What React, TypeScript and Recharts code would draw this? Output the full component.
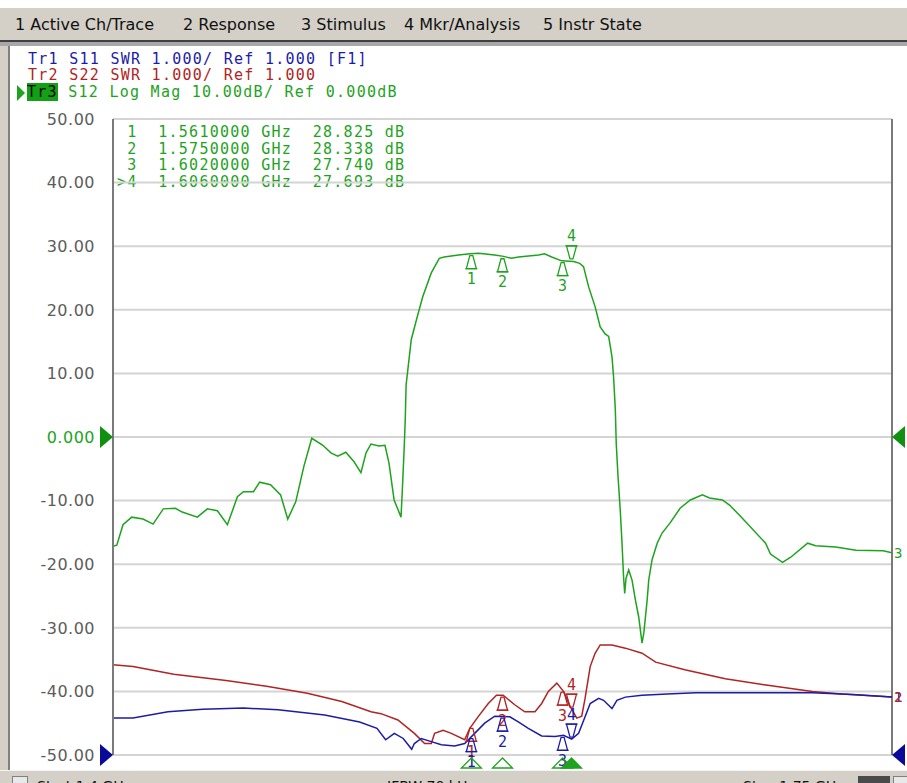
import React from 'react'
import {
  LineChart,
  Line,
  XAxis,
  YAxis,
  CartesianGrid,
  ReferenceLine,
  ReferenceDot,
} from 'recharts'

const GREEN = '#1ea31e'
const BLUE = '#1c1ca6'
const RED = '#b02424'
const GRID = '#d4d4d4'
const FRAME = '#d4d0c8'
const MONO = '"DejaVu Sans Mono", monospace'
const SANS = '"DejaVu Sans", sans-serif'

// stimulus: 1.4 GHz .. 1.75 GHz, values in MHz
const X_TICKS = [1400, 1435, 1470, 1505, 1540, 1575, 1610, 1645, 1680, 1715, 1750]
const DB_TICKS = [50, 40, 30, 20, 10, 0, -10, -20, -30, -40, -50]
const DB_LABELS = ['50.00', '40.00', '30.00', '20.00', '10.00', '0.000', '-10.00', '-20.00', '-30.00', '-40.00', '-50.00']
const MENU = ['1 Active Ch/Trace', '2 Response', '3 Stimulus', '4 Mkr/Analysis', '5 Instr State']
const MENU_LEFT = [15, 183, 301, 404, 543]

// Tr3 S12 Log Mag (dB)
const S12_FREQ = [
  1400, 1401.7, 1404.5, 1408.4, 1413.5, 1418, 1422.6, 1428, 1431.1, 1437.9,
  1442.4, 1446.9, 1451.4, 1455.9, 1458.6, 1463.1, 1465.9, 1470.8, 1475.3, 1478.5,
  1482.1, 1485.7, 1489.3, 1494.3, 1497.9, 1501, 1504.6, 1508.3, 1511.4, 1513.7,
  1515.9, 1519.5, 1522.2, 1524, 1526.3, 1529.4, 1529.9, 1530.8, 1531.3, 1531.7,
  1534, 1536.7, 1539.2, 1543, 1546.6, 1548.8, 1555.2, 1560.6, 1564.2, 1566.4,
  1571.4, 1575.5, 1579.1, 1582.2, 1591.2, 1593.9, 1597.1, 1601.6, 1607, 1609.7,
  1611.4, 1613.7, 1616.6, 1618.9, 1621.1, 1622.7, 1624.2, 1624.9, 1625.7, 1626.1,
  1626.9, 1627.9, 1628.7, 1629.4, 1629.9, 1630.5, 1631.7, 1633.2, 1634.7, 1636.2,
  1637.7, 1638.5, 1640, 1640.7, 1642.2, 1644.5, 1646.7, 1650.3, 1654.8, 1659.4,
  1664.8, 1668, 1673.8, 1677, 1681.5, 1693.2, 1695.4, 1700.8, 1704.5, 1712.1,
  1715.7, 1724.7, 1733.8, 1746, 1750,
]
const S12_DB = [
  -17.2, -17.0, -13.8, -12.6, -12.9, -13.7, -11.3, -11.2, -11.8, -12.6,
  -11.3, -11.6, -13.8, -9.4, -8.6, -8.6, -7.1, -7.5, -9.1, -12.9,
  -10.2, -4.7, -0.2, -1.3, -2.5, -3.0, -2.4, -3.9, -5.6, -2.5,
  -1.1, -1.4, -1.3, -4.1, -9.9, -12.6, -9.1, -2.0, 2.7, 8.2,
  15.3, 18.9, 22.1, 25.8, 28.1, 28.3, 28.6, 28.8, 28.9, 28.8,
  28.6, 28.4, 28.1, 28.3, 28.6, 28.8, 28.3, 27.7, 27.6, 27.3,
  26.8, 23.6, 20.5, 17.3, 16.2, 15.8, 12.6, 9.5, 4.2, -1.0,
  -6.2, -11.5, -16.7, -22.0, -24.6, -22.2, -20.9, -22.5, -25.6, -28.3,
  -32.4, -30.8, -25.6, -22.5, -19.3, -16.7, -15.1, -13.5, -11.2, -9.9,
  -9.1, -9.6, -9.9, -10.7, -12.3, -16.7, -18.4, -19.7, -18.9, -16.7,
  -17.1, -17.3, -17.8, -17.9, -18.2,
]

// Tr2 S22 SWR
const S22_FREQ = [
  1400, 1409, 1427.3, 1450.8, 1469, 1487.3, 1502.8, 1515.9, 1520.4, 1528,
  1535.4, 1540, 1543, 1544.5, 1548.3, 1552, 1558, 1560.3, 1564, 1568.6,
  1572.3, 1575.3, 1580.5, 1585, 1589.6, 1592.6, 1595.6, 1599.4, 1602.4, 1605.4,
  1608.4, 1610.6, 1612.1, 1614.4, 1616.6, 1618.9, 1624.2, 1630.2, 1637.7, 1643.8,
  1656.9, 1675.1, 1693.4, 1714.2, 1727.3, 1750,
]
const S22_SWR = [
  2.42, 2.39, 2.27, 2.17, 2.08, 1.97, 1.84, 1.68, 1.65, 1.55,
  1.34, 1.18, 1.18, 1.34, 1.39, 1.34, 1.24, 1.42, 1.6, 1.81,
  1.94, 1.94, 1.79, 1.68, 1.68, 1.81, 2.0, 2.13, 2.0, 1.76,
  1.58, 1.61, 1.89, 2.39, 2.6, 2.73, 2.73, 2.68, 2.6, 2.46,
  2.34, 2.2, 2.1, 2.0, 1.96, 1.91,
]

// Tr1 S11 SWR
const S11_FREQ = [
  1400, 1409, 1424.7, 1440.3, 1458.6, 1474.2, 1495.1, 1510.8, 1518.6, 1522.5,
  1526.4, 1530.4, 1534.2, 1535.4, 1538.5, 1543, 1547.5, 1553.5, 1558, 1562.5,
  1567, 1571.5, 1578.3, 1582.1, 1586.6, 1592.6, 1598.6, 1602.4, 1606.1, 1609.2,
  1612.1, 1614.4, 1618.2, 1620.4, 1624.2, 1626.4, 1630.2, 1637.7, 1649, 1662,
  1688.2, 1714.2, 1732.4, 1750,
]
const S11_SWR = [
  1.58, 1.58, 1.68, 1.72, 1.74, 1.71, 1.63, 1.52, 1.42, 1.24,
  1.34, 1.26, 1.09, 1.18, 1.26, 1.21, 1.16, 1.14, 1.18, 1.34,
  1.5, 1.61, 1.6, 1.52, 1.42, 1.3, 1.29, 1.31, 1.25, 1.34,
  1.6, 1.81, 1.89, 1.86, 1.73, 1.86, 1.91, 1.94, 1.96, 1.98,
  1.98, 1.98, 1.95, 1.91,
]

// markers (MHz), marker 4 is active
const MARKER_FREQ = [1561, 1575, 1602, 1606]
const S12_MARKER_DB = [28.825, 28.338, 27.74, 27.693]
const S11_MARKER_SWR = [1.29, 1.61, 1.31, 1.25]
const S22_MARKER_SWR = [1.45, 1.94, 2.02, 1.72]
const ACTIVE_MARKER = 3

const s12Data = S12_FREQ.map((f, i) => ({ f, v: S12_DB[i] }))
const s22Data = S22_FREQ.map((f, i) => ({ f, v: S22_SWR[i] }))
const s11Data = S11_FREQ.map((f, i) => ({ f, v: S11_SWR[i] }))

const DbTick = ({ x, y, payload }: any) => {
  const idx = DB_TICKS.indexOf(payload.value)
  return (
    <text
      x={x}
      y={y}
      dy="0.36em"
      textAnchor="end"
      fontFamily={SANS}
      fontSize={16}
      letterSpacing={0.5}
      fill={payload.value === 0 ? GREEN : '#5c5c5c'}
    >
      {DB_LABELS[idx]}
    </text>
  )
}

// marker glyph drawn on a trace
const TraceMarker = ({ cx, cy, color, label, active }: any) => {
  if (cx == null || cy == null) return null
  const s = active ? -1 : 1
  const pts = [
    [cx - 1.5, cy + s * 2],
    [cx + 1.5, cy + s * 2],
    [cx + 5, cy + s * 15],
    [cx - 5, cy + s * 15],
  ]
    .map((p) => p.join(','))
    .join(' ')
  return (
    <g>
      <polygon points={pts} fill="none" stroke={color} strokeWidth={1.3} />
      <line x1={cx - 6} x2={cx + 6} y1={cy + s * 15} y2={cy + s * 15} stroke={color} strokeWidth={1.3} />
      <text
        x={cx}
        y={cy + s * 25}
        dy="0.36em"
        textAnchor="middle"
        fontFamily={MONO}
        fontSize={15}
        fill={color}
      >
        {label}
      </text>
    </g>
  )
}

// stimulus marker below the grid
const StimMarker = ({ cx, cy, active }: any) => (
  <polygon
    points={`${cx},${cy + 3} ${cx - 10},${cy + 13} ${cx + 10},${cy + 13}`}
    fill={active ? GREEN : 'none'}
    stroke={GREEN}
    strokeWidth={1.3}
  />
)

const RefArrow = ({ cx, cy, color, side }: any) => {
  const d = side === 'left' ? -13 : 13
  return <polygon points={`${cx + d},${cy - 11} ${cx},${cy} ${cx + d},${cy + 11}`} fill={color} />
}

const EndLabel = ({ cx, cy, color, label }: any) => (
  <text x={cx + 2} y={cy} dy="0.36em" fontFamily={MONO} fontSize={14} fill={color}>
    {label}
  </text>
)

const monoLine: React.CSSProperties = {
  position: 'absolute',
  fontFamily: MONO,
  fontSize: 15,
  lineHeight: '15px',
  letterSpacing: 1.27,
  whiteSpace: 'pre',
}

export default function App() {
  const rows = MARKER_FREQ.map(
    (f, i) =>
      `${i === ACTIVE_MARKER ? '>' : ' '}${i + 1}  ${(f / 1000).toFixed(7)} GHz  ${S12_MARKER_DB[i].toFixed(3)} dB`
  )

  return (
    <div
      style={{
        position: 'absolute',
        left: 0,
        top: 0,
        width: 907,
        height: 783,
        overflow: 'hidden',
        background: '#fff',
      }}
    >
      {/* menu bar */}
      <div style={{ position: 'absolute', left: 0, top: 8, width: 907, height: 32, background: FRAME }} />
      {MENU.map((m, i) => (
        <div
          key={m}
          style={{
            position: 'absolute',
            left: MENU_LEFT[i],
            top: 15,
            fontFamily: SANS,
            fontSize: 16,
            lineHeight: '20px',
            color: '#111',
            whiteSpace: 'pre',
          }}
        >
          {m}
        </div>
      ))}
      <div style={{ position: 'absolute', left: 0, top: 40, width: 907, height: 2, background: '#404040' }} />
      <div style={{ position: 'absolute', left: 0, top: 42, width: 907, height: 4, background: '#a8a8a8' }} />
      {/* side and bottom frame */}
      <div style={{ position: 'absolute', left: 0, top: 46, width: 8, height: 737, background: FRAME }} />
      <div style={{ position: 'absolute', left: 8, top: 46, width: 2, height: 724, background: '#808080' }} />
      <div style={{ position: 'absolute', left: 0, top: 770, width: 907, height: 13, background: FRAME, borderTop: '1px solid #f4f4f4' }} />
      <div style={{ position: 'absolute', left: 12, top: 776, width: 14, height: 14, border: '1px solid #808080', background: '#e8e8e8' }} />
      <div style={{ position: 'absolute', left: 37, top: 778, fontFamily: SANS, fontSize: 14, color: '#111', whiteSpace: 'pre' }}>Start 1.4 GHz</div>
      <div style={{ position: 'absolute', left: 387, top: 778, fontFamily: SANS, fontSize: 14, color: '#111', whiteSpace: 'pre' }}>IFBW 70 kHz</div>
      <div style={{ position: 'absolute', left: 743, top: 778, fontFamily: SANS, fontSize: 14, color: '#111', whiteSpace: 'pre' }}>Stop 1.75 GHz</div>
      <div style={{ position: 'absolute', left: 858, top: 776, width: 32, height: 14, background: '#4a4a4a' }} />
      <div style={{ position: 'absolute', left: 893, top: 776, width: 14, height: 14, border: '1px solid #808080', background: '#e8e8e8' }} />

      {/* trace legend */}
      <div style={{ ...monoLine, left: 28, top: 52, color: BLUE }}>Tr1 S11 SWR 1.000/ Ref 1.000 [F1]</div>
      <div style={{ ...monoLine, left: 28, top: 68, color: RED }}>Tr2 S22 SWR 1.000/ Ref 1.000</div>
      <div style={{ ...monoLine, left: 27, top: 85, color: GREEN }}>
        <span style={{ background: '#14a014', color: '#000' }}>Tr3</span> S12 Log Mag 10.00dB/ Ref 0.000dB
      </div>
      <svg style={{ position: 'absolute', left: 16, top: 84 }} width={10} height={18}>
        <polygon points="1,1 9,9 1,17" fill={GREEN} />
      </svg>

      {/* marker table */}
      {rows.map((r, i) => (
        <div key={r} style={{ ...monoLine, left: 117, top: 125 + i * 16.5, color: GREEN }}>
          {r}
        </div>
      ))}

      <div style={{ position: 'absolute', left: 0, top: 0 }}>
        <LineChart width={907} height={783} margin={{ top: 119, right: 15, bottom: 28, left: 8 }}>
          <CartesianGrid yAxisId="db" stroke={GRID} strokeWidth={2} />
          <XAxis
            dataKey="f"
            type="number"
            domain={[1400, 1750]}
            ticks={X_TICKS}
            allowDataOverflow
            height={0}
            tick={false}
            tickLine={false}
            axisLine={{ stroke: '#7a7a7a', strokeWidth: 2 }}
          />
          <YAxis
            yAxisId="db"
            type="number"
            domain={[-50, 50]}
            ticks={DB_TICKS}
            width={105}
            tickSize={0}
            tickMargin={18}
            tick={<DbTick />}
            tickLine={false}
            axisLine={{ stroke: '#7a7a7a', strokeWidth: 2 }}
            allowDataOverflow
          />
          <YAxis yAxisId="swr" type="number" domain={[1, 11]} hide allowDataOverflow />
          <ReferenceLine yAxisId="db" x={1750} stroke="#7a7a7a" strokeWidth={2} />

          <Line
            yAxisId="swr"
            data={s22Data}
            dataKey="v"
            type="linear"
            stroke={RED}
            strokeWidth={1.5}
            dot={false}
            activeDot={false}
            isAnimationActive={false}
          />
          <Line
            yAxisId="swr"
            data={s11Data}
            dataKey="v"
            type="linear"
            stroke={BLUE}
            strokeWidth={1.5}
            dot={false}
            activeDot={false}
            isAnimationActive={false}
          />
          <Line
            yAxisId="db"
            data={s12Data}
            dataKey="v"
            type="linear"
            stroke={GREEN}
            strokeWidth={1.5}
            dot={false}
            activeDot={false}
            isAnimationActive={false}
          />

          {/* reference position arrows */}
          <ReferenceDot yAxisId="db" x={1400} y={0} shape={(p: any) => <RefArrow {...p} color="#109010" side="left" />} />
          <ReferenceDot yAxisId="db" x={1750} y={0} shape={(p: any) => <RefArrow {...p} color="#109010" side="right" />} />
          <ReferenceDot yAxisId="swr" x={1400} y={1} shape={(p: any) => <RefArrow {...p} color="#0a0a9a" side="left" />} />
          <ReferenceDot yAxisId="swr" x={1750} y={1} shape={(p: any) => <RefArrow {...p} color="#0a0a9a" side="right" />} />

          {/* trace end labels */}
          <ReferenceDot yAxisId="db" x={1750} y={S12_DB[S12_DB.length - 1]} shape={(p: any) => <EndLabel {...p} color={GREEN} label="3" />} />
          <ReferenceDot yAxisId="swr" x={1750} y={S11_SWR[S11_SWR.length - 1]} shape={(p: any) => <EndLabel {...p} color={BLUE} label="1" />} />
          <ReferenceDot yAxisId="swr" x={1750} y={S22_SWR[S22_SWR.length - 1]} shape={(p: any) => <EndLabel {...p} color={RED} label="2" />} />

          {/* markers */}
          {MARKER_FREQ.map((f, i) => (
            <ReferenceDot
              key={`s22-${i}`}
              yAxisId="swr"
              x={f}
              y={S22_MARKER_SWR[i]}
              shape={(p: any) => <TraceMarker {...p} color={RED} label={i + 1} active={i === ACTIVE_MARKER} />}
            />
          ))}
          {MARKER_FREQ.map((f, i) => (
            <ReferenceDot
              key={`s11-${i}`}
              yAxisId="swr"
              x={f}
              y={S11_MARKER_SWR[i]}
              shape={(p: any) => <TraceMarker {...p} color={BLUE} label={i + 1} active={i === ACTIVE_MARKER} />}
            />
          ))}
          {MARKER_FREQ.map((f, i) => (
            <ReferenceDot
              key={`s12-${i}`}
              yAxisId="db"
              x={f}
              y={S12_MARKER_DB[i]}
              shape={(p: any) => <TraceMarker {...p} color={GREEN} label={i + 1} active={i === ACTIVE_MARKER} />}
            />
          ))}
          {MARKER_FREQ.map((f, i) => (
            <ReferenceDot
              key={`stim-${i}`}
              yAxisId="db"
              x={f}
              y={-50}
              shape={(p: any) => <StimMarker {...p} active={i === ACTIVE_MARKER} />}
            />
          ))}
        </LineChart>
      </div>
    </div>
  )
}
